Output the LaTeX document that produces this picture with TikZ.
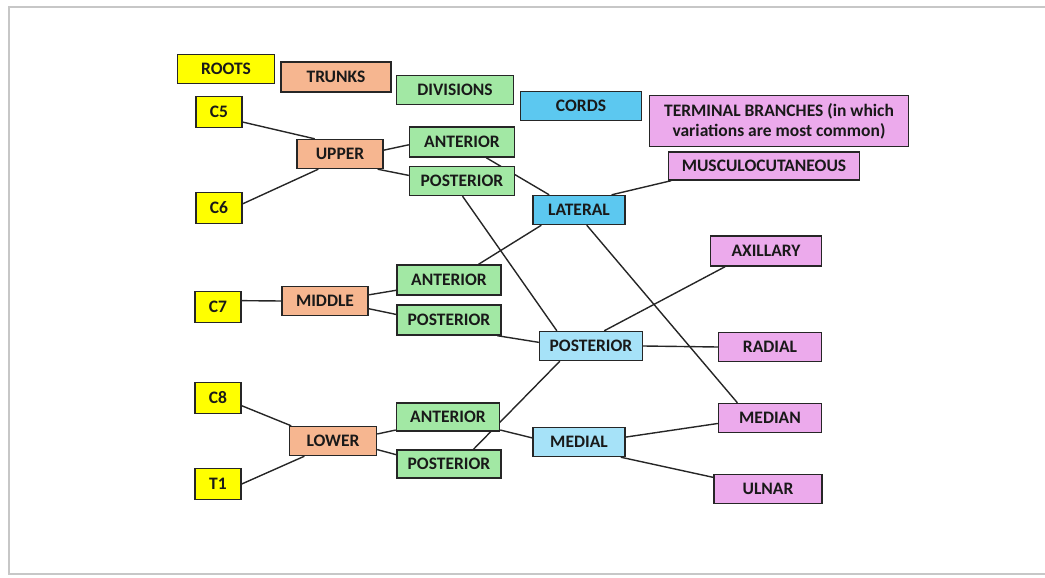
\documentclass[tikz,border=0pt]{standalone}
\usepackage{fontspec}
\setmainfont{Carlito}
\usetikzlibrary{backgrounds}
\definecolor{rootyellow}{HTML}{FFFF00}
\definecolor{trunksalmon}{HTML}{F6B690}
\definecolor{divgreen}{HTML}{A2E8A4}
\definecolor{cordblue}{HTML}{5CC8F0}
\definecolor{cordlight}{HTML}{A6E2F8}
\definecolor{termpink}{HTML}{ECAAEC}
\tikzset{
	box/.style={draw=black!85, line width=1.4pt, inner sep=0pt, text=black!90,
			font=\bfseries\fontsize{17.5}{20}\selectfont, minimum height=29},
	root/.style={box, fill=rootyellow, minimum width=46, minimum height=31},
	trunk/.style={box, fill=trunksalmon, minimum width=86},
	division/.style={box, fill=divgreen, minimum width=104},
	cord/.style={box, fill=cordblue, minimum width=92},
	cordpale/.style={box, fill=cordlight, minimum width=103},
	branch/.style={box, fill=termpink, minimum width=103},
	nerve/.style={line width=1.4pt, black!85}
}
\begin{document}
\begin{tikzpicture}[x=1pt,y=-1pt]
	\useasboundingbox (0,0) rectangle (1045,578);
	% Page frame
	\draw[line width=2.5pt, black!22] (9,7) rectangle (1052,574);
	% Legend
	\node[box, fill=rootyellow, minimum width=97] (keyroots) at (226,69) {ROOTS};
	\node[trunk, minimum width=110, minimum height=30] (keytrunks) at (336,77) {TRUNKS};
	\node[division, minimum width=117] (keydivisions) at (455,90) {DIVISIONS};
	\node[cord, minimum width=121] (keycords) at (581,106) {CORDS};
	\node[branch, minimum width=259, minimum height=51, align=center] (keybranches) at (779,121)
		{TERMINAL BRANCHES (in which\\variations are most common)};
	% Roots
	\node[root] (c5) at (219,112) {C5};
	\node[root] (c6) at (219,208) {C6};
	\node[root] (c7) at (218,307) {C7};
	\node[root] (c8) at (218,398) {C8};
	\node[root] (t1) at (218,484) {T1};
	% Trunks
	\node[trunk] (upper) at (340,154) {UPPER};
	\node[trunk] (middle) at (325,301) {MIDDLE};
	\node[trunk, minimum width=87] (lower) at (333,441) {LOWER};
	% Divisions
	\node[division, minimum width=105, minimum height=30] (antupper) at (462,142) {ANTERIOR};
	\node[division, minimum width=105] (postupper) at (462,181) {POSTERIOR};
	\node[division, minimum height=30] (antmiddle) at (449,280) {ANTERIOR};
	\node[division, minimum height=30] (postmiddle) at (449,320) {POSTERIOR};
	\node[division, minimum width=103, minimum height=28] (antlower) at (448,417) {ANTERIOR};
	\node[division, minimum height=28] (postlower) at (449,464) {POSTERIOR};
	% Cords
	\node[cord] (lateral) at (579,210) {LATERAL};
	\node[cordpale] (posterior) at (591,346) {POSTERIOR};
	\node[cordpale, minimum width=92] (medial) at (579,442) {MEDIAL};
	% Terminal branches
	\node[branch, minimum width=191, minimum height=28] (musculo) at (764,166) {MUSCULOCUTANEOUS};
	\node[branch, minimum width=111, minimum height=30] (axillary) at (766,251) {AXILLARY};
	\node[branch] (radial) at (770,347) {RADIAL};
	\node[branch] (median) at (770,418) {MEDIAN};
	\node[branch, minimum width=108] (ulnar) at (768,489) {ULNAR};
	% Connections
	\begin{scope}[on background layer]
		\draw[nerve] (c5.-23) -- (upper.149);
		\draw[nerve] (c6.10) -- (upper.-145);
		\draw[nerve] (c7.15) -- (middle.west);
		\draw[nerve] (c8.-18) -- (lower.160);
		\draw[nerve] (t1.east) -- (lower.-152);
		\draw[nerve] (upper.5) -- (antupper.183);
		\draw[nerve] (upper.-22) -- (postupper.174);
		\draw[nerve] (middle.8) -- (antmiddle.191);
		\draw[nerve] (middle.-10) -- (postmiddle.174);
		\draw[nerve] (lower.9) -- (antlower.194);
		\draw[nerve] (lower.-11) -- (postlower.170);
		\draw[nerve] (antupper.-33) -- (lateral.153);
		\draw[nerve] (antmiddle.28) -- (lateral.202);
		\draw[nerve] (postupper.-88) -- (posterior.156);
		\draw[nerve] (postmiddle.-18) -- (posterior.176);
		\draw[nerve] (postlower.31) -- (posterior.206);
		\draw[nerve] (antlower.-14) -- (medial.175);
		\draw[nerve] (lateral.25) -- (musculo.189);
		\draw[nerve] (lateral.-63) -- (median.155);
		\draw[nerve] (posterior.49) -- (axillary.201);
		\draw[nerve] (posterior.east) -- (radial.west);
		\draw[nerve] (medial.6) -- (median.186);
		\draw[nerve] (medial.-20) -- (ulnar.168);
	\end{scope}
\end{tikzpicture}
\end{document}
